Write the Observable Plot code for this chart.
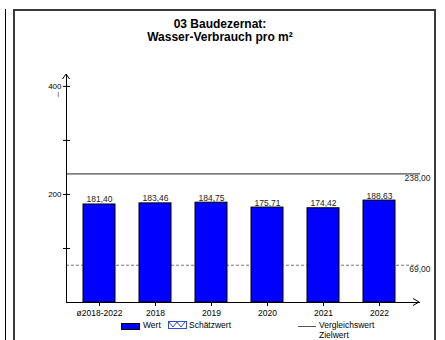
<!DOCTYPE html>
<html>
<head>
<meta charset="utf-8">
<script src="https://cdn.jsdelivr.net/npm/d3@7"></script>
<script src="https://cdn.jsdelivr.net/npm/@observablehq/plot@0.6"></script>
<style>
  html, body { margin: 0; padding: 0; background: #fff; }
  #wrap { position: relative; width: 445px; height: 340px; overflow: hidden; font-family: "Liberation Sans", Arial, sans-serif; }
  #wrap svg { position: absolute; left: 0; top: 0; }
  .abs { position: absolute; white-space: nowrap; }
  #title { left: 0; top: 18px; width: 440px; text-align: center; font-weight: bold; font-size: 12px; line-height: 13px; color: #000; }
  .leg { font-size: 8.5px; color: #000; line-height: 9px; }
</style>
</head>
<body>
<div id="wrap">
  <div class="abs" style="left:5px;top:9px;width:0;height:340px;border-left:1px solid #000;"></div>
  <div class="abs" style="left:13px;top:9px;width:419px;height:400px;border:2px solid #3a3a3a;"></div>
  <div id="title" class="abs">03 Baudezernat:<br>Wasser-Verbrauch pro m²</div>
  <div id="chart"></div>
  <div class="abs" style="left:121px;top:323px;width:17px;height:5px;background:#0000ff;border:1px solid #000;"></div>
  <div class="abs leg" style="left:143px;top:321px;">Wert</div>
  <svg class="abs" style="left:168px;top:321px;" width="19" height="9">
    <rect x="0.5" y="0.5" width="18" height="7" fill="#fff" stroke="#3050d0"/>
    <polyline points="1,1 5,6 9,1 13,6 17,1" fill="none" stroke="#3050d0"/>
  </svg>
  <div class="abs leg" style="left:189px;top:321px;">Schätzwert</div>
  <div class="abs" style="left:298px;top:326px;width:18px;height:0;border-top:1px solid #555;"></div>
  <div class="abs leg" style="left:319px;top:321px;">Vergleichswert</div>
  <div class="abs leg" style="left:319px;top:331px;">Zielwert</div>
</div>
<script>
const categories = ["ø2018-2022", "2018", "2019", "2020", "2021", "2022"];
const values = [181.40, 183.46, 184.75, 175.71, 174.42, 188.63];
const vergleichswert = [238];
const zielwert = [69];
const yTicks = [100, 200, 300, 400];
const yTickLabels = [200, 400];
const unitLabel = "l";

const data = categories.map((c, i) => ({cat: c, value: values[i]}));
const fmt = v => v.toFixed(2).replace(".", ",");

const arrows = (index, scales, values, dims) => {
  const x0 = dims.marginLeft;
  const y0 = dims.height - dims.marginBottom;
  const yTop = dims.marginTop;
  const xEnd = dims.width - dims.marginRight - 1;
  const g = d3.create("svg:g").attr("fill", "none").attr("stroke", "#000").attr("stroke-width", 1);
  g.append("path").attr("d", `M${x0 - 3.5},${yTop + 5}L${x0},${yTop}L${x0 + 3.5},${yTop + 5}`);
  g.append("path").attr("d", `M${xEnd - 6},${y0 - 3.5}L${xEnd},${y0}L${xEnd - 6},${y0 + 3.5}`);
  return g.node();
};

const chart = Plot.plot({
  width: 445,
  height: 340,
  marginLeft: 66,
  marginRight: 25,
  marginTop: 74,
  marginBottom: 38,
  style: {fontFamily: "Liberation Sans, Arial, sans-serif", fontSize: "8.5px", color: "#000", background: "transparent"},
  x: {domain: categories, paddingInner: 0.4336, paddingOuter: 0.3496, align: 0.405, axis: null, label: null},
  y: {domain: [0, 422], axis: null, label: null},
  marks: [
    Plot.ruleY(zielwert, {stroke: "#777", strokeDasharray: "3,2", strokeWidth: 1}),
    Plot.ruleY(vergleichswert, {stroke: "#222", strokeWidth: 1}),
    Plot.text(vergleichswert, {y: d => d, frameAnchor: "right", text: d => fmt(d), textAnchor: "end", lineAnchor: "top", dx: 10, dy: 1, fontSize: 8.5, fill: "#222"}),
    Plot.text(zielwert, {y: d => d, frameAnchor: "right", text: d => fmt(d), textAnchor: "end", lineAnchor: "top", dx: 10, dy: 1, fontSize: 8.5, fill: "#222"}),
    Plot.barY(data, {x: "cat", y: "value", fill: "#0000ff", stroke: "#000", strokeWidth: 1}),
    Plot.text(data, {x: "cat", y: "value", text: d => fmt(d.value), lineAnchor: "bottom", dy: -2, fontSize: 8.5, fill: "#222"}),
    Plot.axisX({anchor: "bottom", tickSize: 4, tickPadding: 3, fontSize: 8.5, stroke: "#000", label: null}),
    Plot.axisY({anchor: "left", ticks: yTicks, tickSize: 7, dx: 4, tickPadding: 2, fontSize: 8, stroke: "#000", label: null,
      tickFormat: d => yTickLabels.includes(d) ? String(d) : ""}),
    Plot.text([400], {y: d => d, frameAnchor: "left", text: () => unitLabel, dx: -9, dy: 8, fontSize: 7, fill: "#444"}),
    Plot.ruleY([0], {stroke: "#000", strokeWidth: 1}),
    Plot.frame({anchor: "left", stroke: "#000"}),
    arrows
  ]
});
document.getElementById("chart").appendChild(chart);
</script>
</body>
</html>
